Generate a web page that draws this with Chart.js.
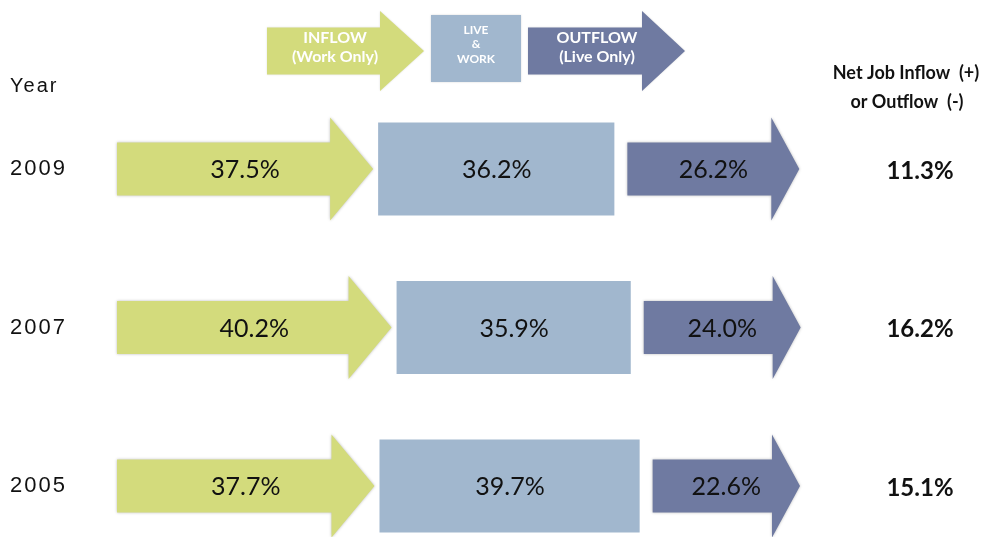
<!DOCTYPE html>
<html>
<head>
<meta charset="utf-8">
<script src="https://cdn.jsdelivr.net/npm/chart.js@4.4.1/dist/chart.umd.min.js"></script>
<style>
  html, body { margin: 0; padding: 0; background: #ffffff; }
  #wrap { width: 989px; height: 537px; }
</style>
</head>
<body>
<div id="wrap"><canvas id="flowChart"></canvas></div>
<script>
// Commuting flows by year, share of jobs
const years = ['2009', '2007', '2005'];
const inflow = [37.5, 40.2, 37.7];
const liveWork = [36.2, 35.9, 39.7];
const outflow = [26.2, 24.0, 22.6];
const netFlow = [11.3, 16.2, 15.1];

const COLORS = {
    inflow: '#D3DB7C',
    live: '#A1B7CE',
    outflow: '#6F7AA1'
};

const drawArrow = (ctx, x0, x1, cy, bodyH, headH, headLen, color) => {
    ctx.beginPath();
    ctx.moveTo(x0, cy - bodyH / 2);
    ctx.lineTo(x1 - headLen, cy - bodyH / 2);
    ctx.lineTo(x1 - headLen, cy - headH / 2);
    ctx.lineTo(x1, cy);
    ctx.lineTo(x1 - headLen, cy + headH / 2);
    ctx.lineTo(x1 - headLen, cy + bodyH / 2);
    ctx.lineTo(x0, cy + bodyH / 2);
    ctx.closePath();
    ctx.fillStyle = color;
    ctx.fill();
};

// draws the arrows / boxes from the bar elements, plus value labels
const flowShapes = {
    id: 'flowShapes',
    beforeDraw(chart) {
        chart.ctx.letterSpacing = '2px';
    },
    beforeDatasetsDraw(chart) {
        chart.ctx.letterSpacing = '0px';
    },
    afterDatasetsDraw(chart) {
        const ctx = chart.ctx;
        chart.data.datasets.forEach((ds, d) => {
            const meta = chart.getDatasetMeta(d);
            meta.data.forEach((bar, i) => {
                const left = Math.min(bar.base, bar.x);
                const right = Math.max(bar.base, bar.x);
                const cy = bar.y;
                const h = bar.height;
                let cx;
                ctx.save();
                if (ds.shape === 'box') {
                    ctx.fillStyle = ds.fill;
                    ctx.fillRect(left + 5, cy - h / 2, right - left - 11, h);
                    cx = (left + right) / 2;
                } else {
                    ctx.shadowColor = 'rgba(0,0,0,0.28)';
                    ctx.shadowBlur = 3;
                    const x0 = ds.shape === 'out' ? left + 7 : left;
                    const headLen = ds.shape === 'out' ? 28 : 43;
                    drawArrow(ctx, x0, right, cy, h * 0.57, h * 1.11, headLen, ds.fill);
                    cx = (x0 + right) / 2;
                }
                ctx.restore();
                ctx.save();
                ctx.font = '25px Lato, "Open Sans", sans-serif';
                ctx.fillStyle = '#111111';
                ctx.textAlign = 'center';
                ctx.textBaseline = 'middle';
                ctx.fillText(ds.data[i].toFixed(1) + '%', cx, cy + 1);
                ctx.restore();
            });
        });

        // net flow column
        const yScale = chart.scales.y;
        ctx.save();
        ctx.fillStyle = '#111111';
        ctx.textAlign = 'center';
        ctx.textBaseline = 'middle';
        ctx.font = 'bold 18px Lato, "Open Sans", sans-serif';
        ctx.fillText('Net Job Inflow  (+)', 906, 73);
        ctx.fillText('or Outflow  (-)', 907, 102);
        ctx.font = 'bold 24px Lato, "Open Sans", sans-serif';
        netFlow.forEach((v, i) => {
            ctx.fillText(v.toFixed(1) + '%', 920, yScale.getPixelForValue(i) + 2);
        });

        // axis caption
        ctx.textAlign = 'left';
        ctx.font = '20px "Liberation Sans", Arial, sans-serif';
        ctx.letterSpacing = '2px';
        ctx.fillText('Year', 10, 86);
        ctx.letterSpacing = '0px';
        ctx.restore();

        // key across the top
        ctx.save();
        ctx.shadowColor = 'rgba(0,0,0,0.15)';
        ctx.shadowBlur = 2;
        drawArrow(ctx, 267, 424, 51, 47, 80, 44, COLORS.inflow);
        ctx.fillStyle = COLORS.live;
        ctx.fillRect(431, 15, 90, 67);
        drawArrow(ctx, 528, 685, 51, 47, 80, 43, COLORS.outflow);
        ctx.restore();

        ctx.save();
        ctx.fillStyle = '#ffffff';
        ctx.textAlign = 'center';
        ctx.textBaseline = 'middle';
        ctx.font = 'bold 16px Lato, "Open Sans", sans-serif';
        ctx.fillText('INFLOW', 335, 38);
        ctx.fillText('(Work Only)', 335, 57);
        ctx.fillText('OUTFLOW', 597, 38);
        ctx.fillText('(Live Only)', 597, 57);
        ctx.font = 'bold 12px Lato, "Open Sans", sans-serif';
        ctx.fillText('LIVE', 476, 30);
        ctx.fillText('&', 476, 44);
        ctx.fillText('WORK', 476, 59);
        ctx.restore();
    }
};

new Chart(document.getElementById('flowChart'), {
    type: 'bar',
    data: {
        labels: years,
        datasets: [
            { label: 'Inflow (Work Only)', data: inflow, shape: 'in', fill: COLORS.inflow },
            { label: 'Live & Work', data: liveWork, shape: 'box', fill: COLORS.live },
            { label: 'Outflow (Live Only)', data: outflow, shape: 'out', fill: COLORS.outflow }
        ].map(ds => Object.assign(ds, {
            backgroundColor: 'rgba(0,0,0,0)',
            borderWidth: 0,
            barThickness: 93,
            clip: false
        }))
    },
    options: {
        indexAxis: 'y',
        responsive: true,
        maintainAspectRatio: false,
        animation: false,
        layout: {
            padding: { left: 10, right: 189, top: 169, bottom: 51 }
        },
        plugins: {
            legend: { display: false },
            tooltip: { enabled: false }
        },
        scales: {
            x: {
                stacked: true,
                display: false,
                min: 0,
                max: 100
            },
            y: {
                stacked: true,
                offset: false,
                grid: { display: false },
                border: { display: false },
                afterFit: (scale) => { scale.width = 107; },
                ticks: {
                    crossAlign: 'far',
                    padding: 0,
                    color: '#111111',
                    font: { family: '"Liberation Sans", Arial, sans-serif', size: 22 }
                }
            }
        }
    },
    plugins: [flowShapes]
});
</script>
</body>
</html>
